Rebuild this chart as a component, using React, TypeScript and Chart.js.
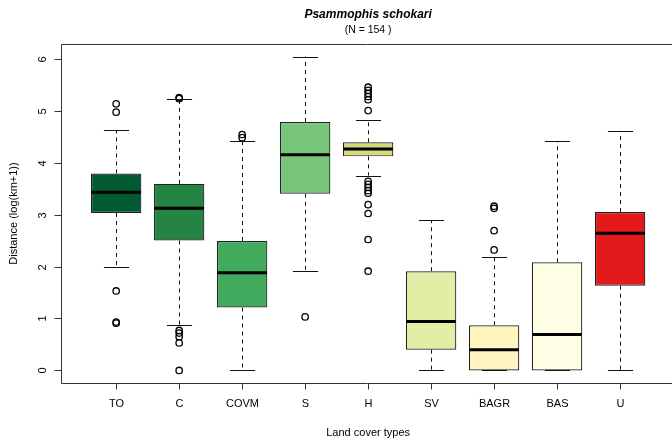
import React, { useEffect, useRef } from "react";
import { Chart, registerables } from "chart.js";

Chart.register(...registerables);

const categories = ["TO", "C", "COVM", "S", "H", "SV", "BAGR", "BAS", "U"];
const lowerWhisker = [1.99, 0.87, 0, 1.92, 3.75, 0, 0, 0, 0];
const q1 = [3.03, 2.5, 1.21, 3.4, 4.12, 0.4, 0, 0, 1.63];
const medians = [3.43, 3.12, 1.88, 4.15, 4.26, 0.94, 0.4, 0.69, 2.64];
const q3 = [3.79, 3.59, 2.49, 4.78, 4.39, 1.91, 0.87, 2.08, 3.05];
const upperWhisker = [4.63, 5.22, 4.41, 6.04, 4.82, 2.89, 2.18, 4.41, 4.61];
const outliers = [
  [5.13, 4.97, 1.53, 0.93, 0.91],
  [5.25, 5.23, 0.77, 0.72, 0.65, 0.53, 0],
  [4.54, 4.48],
  [1.03],
  [5.45, 5.39, 5.33, 5.27, 5.21, 5.0, 3.64, 3.58, 3.52, 3.46, 3.41, 3.19, 3.02, 2.52, 1.91],
  [],
  [3.16, 3.12, 2.69, 2.32],
  [],
  [],
];
const boxColors = [
  "#005a32",
  "#238443",
  "#41ab5d",
  "#78c679",
  "#d4d980",
  "#e2eea6",
  "#fff4c0",
  "#ffffe5",
  "#e31a1c",
];
const yTicks = [0, 1, 2, 3, 4, 5, 6];
const titleText = "Psammophis schokari";
const subtitleText = "(N = 154 )";
const xTitle = "Land cover types";
const yTitle = "Distance (log(km+1))";

const FONT = "'Liberation Sans', Arial, Helvetica, sans-serif";

const decorPlugin = {
  id: "boxDecor",
  beforeDatasetsDraw(chart: any) {
    const ctx = chart.ctx;
    const xs = chart.scales.x;
    const ys = chart.scales.y;
    const meta = chart.getDatasetMeta(0);
    ctx.save();
    ctx.strokeStyle = "#111";
    ctx.lineWidth = 1;
    categories.forEach((_, i) => {
      const x = Math.round(xs.getPixelForValue(i + 1)) + 0.5;
      const w = meta.data[i] ? meta.data[i].width : 50;
      const capHalf = w / 4;
      ctx.setLineDash([4, 4]);
      ctx.beginPath();
      ctx.moveTo(x, ys.getPixelForValue(q3[i]));
      ctx.lineTo(x, ys.getPixelForValue(upperWhisker[i]));
      ctx.moveTo(x, ys.getPixelForValue(q1[i]));
      ctx.lineTo(x, ys.getPixelForValue(lowerWhisker[i]));
      ctx.stroke();
      ctx.setLineDash([]);
      ctx.beginPath();
      const yu = Math.round(ys.getPixelForValue(upperWhisker[i])) + 0.5;
      const yl = Math.round(ys.getPixelForValue(lowerWhisker[i])) + 0.5;
      ctx.moveTo(x - capHalf, yu);
      ctx.lineTo(x + capHalf, yu);
      ctx.moveTo(x - capHalf, yl);
      ctx.lineTo(x + capHalf, yl);
      ctx.stroke();
    });
    ctx.restore();
  },
  afterDatasetsDraw(chart: any) {
    const ctx = chart.ctx;
    const xs = chart.scales.x;
    const ys = chart.scales.y;
    const meta = chart.getDatasetMeta(0);
    ctx.save();
    ctx.strokeStyle = "#000";
    ctx.lineWidth = 3;
    categories.forEach((_, i) => {
      const x = xs.getPixelForValue(i + 1);
      const w = meta.data[i] ? meta.data[i].width : 50;
      const y = ys.getPixelForValue(medians[i]);
      ctx.beginPath();
      ctx.moveTo(x - w / 2 + 0.5, y);
      ctx.lineTo(x + w / 2 - 0.5, y);
      ctx.stroke();
    });
    ctx.restore();
  },
  afterDraw(chart: any) {
    const ctx = chart.ctx;
    const xs = chart.scales.x;
    const ys = chart.scales.y;
    const area = chart.chartArea;
    ctx.save();
    ctx.strokeStyle = "#333";
    ctx.lineWidth = 1;
    const L = Math.round(area.left) - 0.5;
    const T = Math.round(area.top) + 0.5;
    const B = Math.round(area.bottom) + 0.5;
    ctx.beginPath();
    ctx.moveTo(area.right + 20, T);
    ctx.lineTo(L, T);
    ctx.lineTo(L, B);
    ctx.lineTo(area.right + 20, B);
    ctx.stroke();

    ctx.fillStyle = "#000";
    ctx.font = `11px ${FONT}`;
    yTicks.forEach((v) => {
      const y = Math.round(ys.getPixelForValue(v)) + 0.5;
      ctx.beginPath();
      ctx.moveTo(L, y);
      ctx.lineTo(L - 7, y);
      ctx.stroke();
      ctx.save();
      ctx.translate(L - 19, y);
      ctx.rotate(-Math.PI / 2);
      ctx.textAlign = "center";
      ctx.textBaseline = "middle";
      ctx.fillText(String(v), 0, 0);
      ctx.restore();
    });
    categories.forEach((c, i) => {
      const x = Math.round(xs.getPixelForValue(i + 1)) + 0.5;
      ctx.beginPath();
      ctx.moveTo(x, B);
      ctx.lineTo(x, B + 6);
      ctx.stroke();
      ctx.textAlign = "center";
      ctx.textBaseline = "middle";
      ctx.fillText(c, x, B + 20);
    });
    const cx = xs.getPixelForValue(5);
    ctx.textAlign = "center";
    ctx.textBaseline = "middle";
    ctx.fillText(xTitle, cx, B + 49);
    ctx.save();
    ctx.translate(14, (area.top + area.bottom) / 2);
    ctx.rotate(-Math.PI / 2);
    ctx.fillText(yTitle, 0, 0);
    ctx.restore();
    ctx.font = `italic bold 12px ${FONT}`;
    ctx.fillText(titleText, cx, 15);
    ctx.font = `10.5px ${FONT}`;
    ctx.fillText(subtitleText, cx, 30);
    ctx.restore();
  },
};

export default function App() {
  const ref = useRef<HTMLCanvasElement | null>(null);
  useEffect(() => {
    if (!ref.current) return;
    const chart = new Chart(ref.current, {
      type: "bar",
      data: {
        datasets: [
          {
            type: "bar",
            data: categories.map((_, i) => ({ x: i + 1, y: [q1[i], q3[i]] })) as any,
            backgroundColor: boxColors,
            borderColor: "#222",
            borderWidth: 1.2,
            borderSkipped: false,
            barPercentage: 1,
            categoryPercentage: 0.8,
            grouped: false,
          } as any,
          {
            type: "scatter",
            data: outliers.flatMap((arr, i) => arr.map((v) => ({ x: i + 1, y: v }))) as any,
            pointStyle: "circle",
            pointRadius: 3.2,
            backgroundColor: "rgba(0,0,0,0)",
            borderColor: "#000",
            borderWidth: 1.3,
          } as any,
        ],
      },
      options: {
        animation: false,
        responsive: false,
        datasets: { bar: { barPercentage: 1, categoryPercentage: 0.8 } } as any,
        layout: { padding: { left: 62, top: 44, right: 0, bottom: 58 } },
        scales: {
          x: {
            type: "linear",
            min: 0.14,
            max: 9.74,
            offset: false,
            display: false,
            afterBuildTicks: (scale: any) => {
              scale.ticks = categories.map((_, i) => ({ value: i + 1 }));
            },
          } as any,
          y: { type: "linear", min: -0.2416, max: 6.2816, display: false },
        },
        plugins: {
          legend: { display: false },
          tooltip: { enabled: false },
          title: { display: false },
        },
      },
      plugins: [decorPlugin],
    });
    return () => chart.destroy();
  }, []);
  return (
    <div style={{ position: "fixed", left: 0, top: 0, width: 672, height: 441, background: "#fff" }}>
      <canvas ref={ref} width={672} height={441} style={{ display: "block" }} />
    </div>
  );
}
